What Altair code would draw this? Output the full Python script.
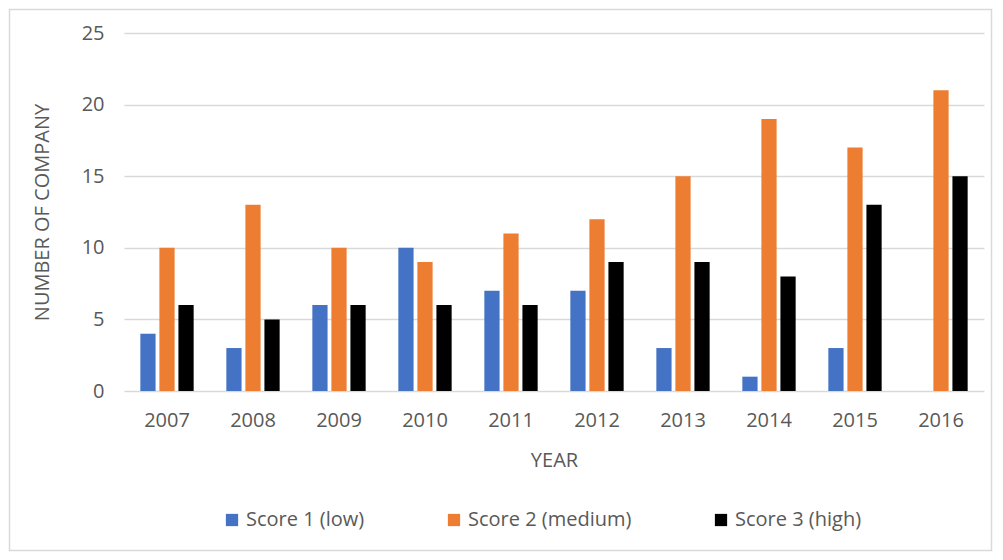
import altair as alt
import pandas as pd

years = ["2007", "2008", "2009", "2010", "2011", "2012", "2013", "2014", "2015", "2016"]
series = ["Score 1 (low)", "Score 2 (medium)", "Score 3 (high)"]
score1 = [4, 3, 6, 10, 7, 7, 3, 1, 3, 0]
score2 = [10, 13, 10, 9, 11, 12, 15, 19, 17, 21]
score3 = [6, 5, 6, 6, 6, 9, 9, 8, 13, 15]
colors = ["#4472C4", "#ED7D31", "#000000"]

rows = []
for i, y in enumerate(years):
    for s, vals in zip(series, [score1, score2, score3]):
        rows.append({"year": y, "series": s, "value": vals[i]})
df = pd.DataFrame(rows)

FONT = "Open Sans"
TXT = "#595959"

bars = alt.Chart(df).mark_bar().encode(
    x=alt.X("year:N", sort=years,
            scale=alt.Scale(paddingInner=0.38, paddingOuter=0.19),
            axis=alt.Axis(title="YEAR", labelAngle=0, ticks=False, domain=False,
                          labelPadding=19, titlePadding=20)),
    xOffset=alt.XOffset("series:N", sort=series,
                        scale=alt.Scale(paddingInner=0.2, paddingOuter=0)),
    y=alt.Y("value:Q", scale=alt.Scale(domain=[0, 25]),
            axis=alt.Axis(title="NUMBER OF COMPANY", values=[0, 5, 10, 15, 20, 25],
                          ticks=False, domain=False, labelPadding=20, titlePadding=29)),
    color=alt.Color("series:N", sort=series,
                    scale=alt.Scale(domain=series, range=colors),
                    legend=alt.Legend(title=None, orient="none", direction="horizontal",
                                      legendX=98, legendY=477, symbolType="square",
                                      symbolSize=150, columnPadding=79, labelLimit=400,
                                      symbolStrokeWidth=0)),
)

frame = alt.Chart(alt.Data(values=[{"f": 1}])).mark_rect(
    fillOpacity=0, stroke="#d9d9d9", strokeWidth=1.5
).encode(x=alt.value(-114.5), x2=alt.value(867.5), y=alt.value(-23.5), y2=alt.value(517.5))

chart = alt.layer(frame, bars).properties(
    width=860, height=358,
    padding={"left": 116, "top": 25, "right": 10, "bottom": 161},
    autosize=alt.AutoSizeParams(type="none"),
    background="white",
).configure_view(stroke=None).configure_axis(
    labelFont=FONT, titleFont=FONT, labelFontSize=20, titleFontSize=20,
    labelColor=TXT, titleColor=TXT, titleFontWeight="normal",
    gridColor="#d9d9d9", gridWidth=1.5,
).configure_axisX(grid=False).configure_legend(
    labelFont=FONT, labelFontSize=20, labelColor=TXT,
)

chart.save("out.html", embed_options={"renderer": "svg", "actions": False})
